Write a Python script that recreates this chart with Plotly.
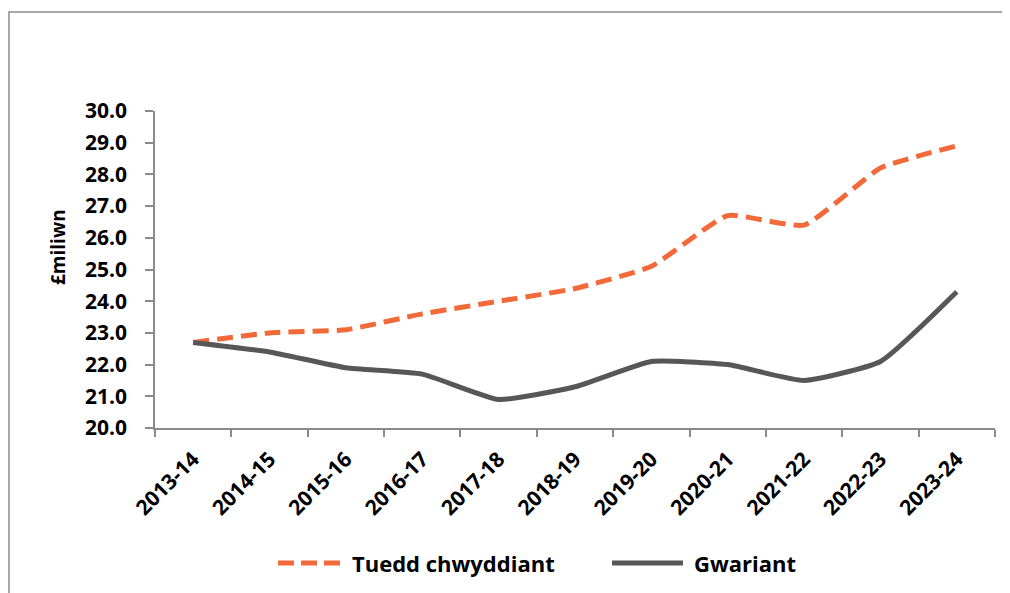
import plotly.graph_objects as go

years = ["2013-14", "2014-15", "2015-16", "2016-17", "2017-18", "2018-19",
         "2019-20", "2020-21", "2021-22", "2022-23", "2023-24"]
tuedd = [22.7, 23.0, 23.1, 23.6, 24.0, 24.4, 25.1, 26.7, 26.4, 28.2, 28.9]
gwariant = [22.7, 22.4, 21.9, 21.7, 20.9, 21.3, 22.1, 22.0, 21.5, 22.1, 24.3]
y_ticks = [20, 21, 22, 23, 24, 25, 26, 27, 28, 29, 30]
series_names = ["Tuedd chwyddiant", "Gwariant"]

ORANGE = "#F26A3A"
GREY = "#575757"
AXIS = "#8A8A8A"
FONT = "Open Sans"

OFF = 8  # default page body margin
W, H = 1010 - OFF, 593 - OFF
L, R, T, B = 155 - OFF, 15, 111 - OFF, 165
PW, PH = W - L - R, H - T - B


def px(x):
    return (x - OFF - L) / PW


def py(y):
    return (H - B - (y - OFF)) / PH


fig = go.Figure()
fig.add_trace(go.Scatter(
    x=years, y=tuedd, name=series_names[0], mode="lines",
    line=dict(color=ORANGE, width=5, dash="16px,8px", shape="spline", smoothing=0.45),
    showlegend=False,
))
fig.add_trace(go.Scatter(
    x=years, y=gwariant, name=series_names[1], mode="lines",
    line=dict(color=GREY, width=5, shape="spline", smoothing=0.45),
    showlegend=False,
))

# outer frame
fig.add_shape(type="rect", xref="paper", yref="paper",
              x0=px(9), x1=px(1030), y0=py(620), y1=py(12),
              line=dict(color="#8C8C8C", width=1.5), fillcolor="rgba(0,0,0,0)", layer="below")

# legend (manual)
ly = py(563)
fig.add_shape(type="line", xref="paper", yref="paper",
              x0=px(278), x1=px(341), y0=ly, y1=ly,
              line=dict(color=ORANGE, width=5, dash="16px,7px"))
fig.add_shape(type="line", xref="paper", yref="paper",
              x0=px(612), x1=px(683), y0=ly, y1=ly,
              line=dict(color=GREY, width=5))
fig.add_annotation(xref="paper", yref="paper", x=px(350), y=ly, text=series_names[0],
                   showarrow=False, xanchor="left", yanchor="middle",
                   font=dict(family=FONT, size=22, color="black", weight="bold"))
fig.add_annotation(xref="paper", yref="paper", x=px(692), y=ly, text=series_names[1],
                   showarrow=False, xanchor="left", yanchor="middle",
                   font=dict(family=FONT, size=22, color="black", weight="bold"))

# y-axis title
fig.add_annotation(xref="paper", yref="paper", x=px(58), y=py(247), text="£miliwn",
                   showarrow=False, textangle=-90, xanchor="center", yanchor="middle",
                   font=dict(family=FONT, size=19, color="black", weight="bold"))

fig.update_layout(
    width=W, height=H,
    margin=dict(l=L, r=R, t=T, b=B, autoexpand=False),
    paper_bgcolor="white", plot_bgcolor="white",
    showlegend=False,
    xaxis=dict(
        type="category", range=[-0.5, 10.5], tickson="boundaries",
        showline=True, linecolor=AXIS, linewidth=1.5,
        ticks="outside", ticklen=7, tickcolor=AXIS, tickwidth=1.5,
        tickangle=-45, showgrid=False, zeroline=False, ticklabelstandoff=9,
        tickfont=dict(family=FONT, size=21, color="black", weight="bold"),
    ),
    yaxis=dict(
        range=[20, 30], tickvals=y_ticks, ticktext=[f"{v:.1f}" for v in y_ticks],
        showline=True, linecolor=AXIS, linewidth=1.5,
        ticks="outside", ticklen=8, tickcolor=AXIS, tickwidth=1.5,
        showgrid=False, zeroline=False, ticklabelstandoff=14,
        tickfont=dict(family=FONT, size=21, color="black", weight="bold"),
    ),
)

fig.write_html("out.html")
